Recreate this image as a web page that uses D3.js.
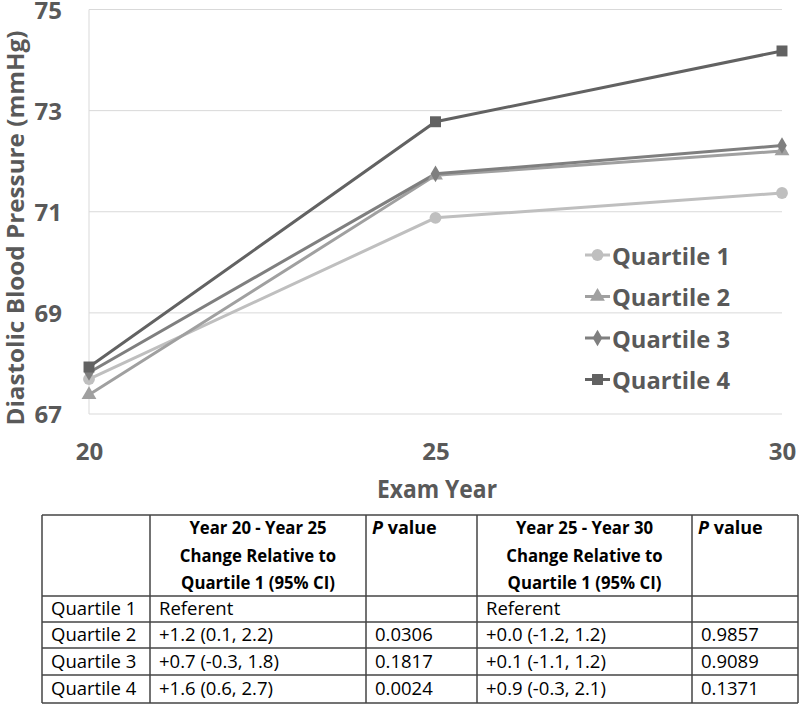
<!DOCTYPE html>
<html><head><meta charset="utf-8">
<script src="https://cdn.jsdelivr.net/npm/d3@7"></script>
<style>body{margin:0;background:#fff}svg{display:block}</style>
</head><body>
<svg id="c" width="800" height="705"></svg>
<script>
const years = [20, 25, 30];
const seriesNames = ["Quartile 1", "Quartile 2", "Quartile 3", "Quartile 4"];
const q1 = [67.69, 70.88, 71.37];
const q2 = [67.38, 71.72, 72.20];
const q3 = [67.82, 71.75, 72.31];
const q4 = [67.93, 72.78, 74.18];
const yTicks = [67, 69, 71, 73, 75];
const tableHeaders = ["", "Year 20 - Year 25", "P value", "Year 25 - Year 30", "P value"];
const headerLines2 = ["Change Relative to", "Quartile 1 (95% CI)"];
const rowLabels = ["Quartile 1", "Quartile 2", "Quartile 3", "Quartile 4"];
const change2025 = ["Referent", "+1.2 (0.1, 2.2)", "+0.7 (-0.3, 1.8)", "+1.6 (0.6, 2.7)"];
const p2025 = ["", "0.0306", "0.1817", "0.0024"];
const change2530 = ["Referent", "+0.0 (-1.2, 1.2)", "+0.1 (-1.1, 1.2)", "+0.9 (-0.3, 2.1)"];
const p2530 = ["", "0.9857", "0.9089", "0.1371"];

const svg = d3.select("#c");
const font = "'Open Sans', sans-serif";
const textCol = "#595959";
const colors = ["#bfbfbf", "#a0a0a0", "#7f7f7f", "#626262"];
const shapes = [d3.symbolCircle, d3.symbolTriangle, d3.symbolDiamond, d3.symbolSquare];
const sizes = [110, 95, 80, 120];

const x = d3.scaleLinear().domain([20, 30]).range([89, 782]);
const y = d3.scaleLinear().domain([67, 75]).range([414, 9.5]);

function narrow(sel, f) {
  sel.each(function () {
    const w = this.getComputedTextLength();
    d3.select(this).attr("textLength", w * f).attr("lengthAdjust", "spacingAndGlyphs");
  });
}

// gridlines
svg.append("g").selectAll("line").data(yTicks).join("line")
  .attr("x1", 89).attr("x2", 782).attr("y1", d => y(d)).attr("y2", d => y(d))
  .attr("stroke", "#d9d9d9").attr("stroke-width", 1);
svg.append("line").attr("x1", 89).attr("x2", 89).attr("y1", y(75)).attr("y2", y(67))
  .attr("stroke", "#d9d9d9");

// y axis
const yAxis = d3.axisLeft(y).tickValues(yTicks).tickSize(0).tickPadding(0);
const ya = svg.append("g").attr("transform", "translate(62,0)").call(yAxis);
ya.select(".domain").remove();
ya.selectAll("text").attr("font-family", font).attr("font-weight", "bold")
  .attr("font-size", 24).attr("fill", textCol).attr("dy", "0.37em");

// x axis
const xAxis = d3.axisBottom(x).tickValues(years).tickSize(0).tickPadding(0);
const xa = svg.append("g").attr("transform", "translate(0,443)").call(xAxis);
xa.select(".domain").remove();
xa.selectAll("text").attr("font-family", font).attr("font-weight", "bold")
  .attr("font-size", 24).attr("fill", textCol).attr("dy", "0.71em");

// titles
svg.append("text").attr("transform", "translate(24,228) rotate(-90)")
  .attr("text-anchor", "middle").attr("font-family", font).attr("font-weight", "bold")
  .attr("font-size", 23.5).attr("fill", textCol)
  .attr("textLength", 395).attr("lengthAdjust", "spacingAndGlyphs")
  .text("Diastolic Blood Pressure (mmHg)");
svg.append("text").attr("x", 437).attr("y", 498).attr("text-anchor", "middle")
  .attr("font-family", font).attr("font-weight", "bold").attr("font-size", 25)
  .attr("textLength", 120).attr("lengthAdjust", "spacingAndGlyphs")
  .attr("fill", textCol).text("Exam Year");

// lines
const allSeries = [q1, q2, q3, q4];
const line = d3.line().x((d, i) => x(years[i])).y(d => y(d));
allSeries.forEach((s, k) => {
  svg.append("path").datum(s).attr("d", line).attr("fill", "none")
    .attr("stroke", colors[k]).attr("stroke-width", 3);
});
allSeries.forEach((s, k) => {
  svg.append("g").selectAll("path").data(s).join("path")
    .attr("transform", (d, i) => `translate(${x(years[i])},${y(d)})`)
    .attr("d", d3.symbol().type(shapes[k]).size(sizes[k]))
    .attr("fill", colors[k]);
});

// legend
const leg = svg.append("g");
seriesNames.forEach((n, k) => {
  const cy = 255 + k * 41.5;
  leg.append("line").attr("x1", 585).attr("x2", 610).attr("y1", cy).attr("y2", cy)
    .attr("stroke", colors[k]).attr("stroke-width", 3);
  leg.append("path").attr("transform", `translate(597.5,${cy})`)
    .attr("d", d3.symbol().type(shapes[k]).size(sizes[k])).attr("fill", colors[k]);
  leg.append("text").attr("x", 612).attr("y", cy + 9.5)
    .attr("font-family", font).attr("font-weight", "bold").attr("font-size", 24)
    .attr("textLength", 118).attr("lengthAdjust", "spacingAndGlyphs")
    .attr("fill", textCol).text(n);
});

// table
const tFont = "'Open Sans', sans-serif";
const colX = [42, 150, 366, 477, 692, 798];
const rowY = [515, 596, 622, 648, 675, 703];
const tg = svg.append("g");
const tcol = "#000";
colX.forEach(cx => tg.append("line").attr("x1", cx).attr("x2", cx)
  .attr("y1", rowY[0]).attr("y2", rowY[rowY.length - 1]).attr("stroke", "#444").attr("stroke-width", 1.5));
rowY.forEach(ry => tg.append("line").attr("x1", colX[0]).attr("x2", colX[5])
  .attr("y1", ry).attr("y2", ry).attr("stroke", "#444").attr("stroke-width", 1.5));

function hdr(cxMid, lines) {
  lines.forEach((t, i) => {
    tg.append("text").attr("x", cxMid).attr("y", 528 + i * 27.5).attr("dy", "0.36em")
      .attr("text-anchor", "middle").attr("font-family", tFont).attr("font-weight", "bold")
      .attr("font-size", 18).attr("fill", tcol).text(t)
      .call(narrow, 0.93);
  });
}
hdr((colX[1] + colX[2]) / 2, [tableHeaders[1], ...headerLines2]);
hdr((colX[3] + colX[4]) / 2, [tableHeaders[3], ...headerLines2]);
[2, 4].forEach(ci => {
  const t = tg.append("text").attr("x", colX[ci] + 6).attr("y", 528).attr("dy", "0.36em")
    .attr("font-family", tFont).attr("font-weight", "bold").attr("font-size", 18).attr("fill", tcol);
  t.append("tspan").attr("font-style", "italic").text(tableHeaders[ci].split(" ")[0]);
  t.append("tspan").text(" " + tableHeaders[ci].split(" ")[1]);
});
const cols = [rowLabels, change2025, p2025, change2530, p2530];
cols.forEach((col, ci) => {
  col.forEach((v, ri) => {
    tg.append("text").attr("x", colX[ci] + 9).attr("y", (rowY[ri + 1] + rowY[ri + 2]) / 2 + 6)
      .attr("font-family", tFont).attr("font-size", 18.5)
      .attr("fill", tcol).text(v);
  });
});
</script>
</body></html>
